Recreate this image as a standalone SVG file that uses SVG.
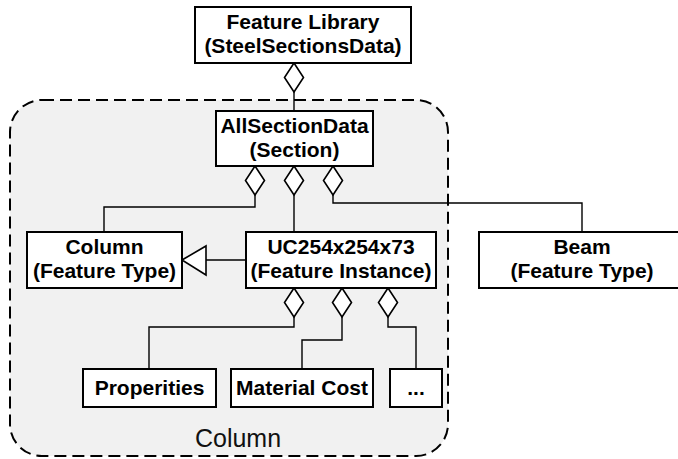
<svg xmlns="http://www.w3.org/2000/svg" width="678" height="459" viewBox="0 0 678 459">
<defs>
<style>
.box{fill:#fff;stroke:#000;stroke-width:2}
.t{font-family:"Liberation Sans",Arial,sans-serif;font-weight:bold;font-size:21px;text-anchor:middle;fill:#000}
.c{fill:none;stroke:#000;stroke-width:1.4}
.dia{fill:#fff;stroke:#000;stroke-width:1.6}
</style>
<path id="dm" d="M0 0 L9.5 14.5 L0 29 L-9.5 14.5 Z"/>
</defs>
<rect width="678" height="459" fill="#fff"/>
<g id="group-column">
<rect x="10" y="100" width="438" height="356" rx="32" ry="32" fill="#f1f1f1" stroke="#000" stroke-width="2" stroke-dasharray="12 6"/>
<text x="238" y="447" font-family="'Liberation Sans',Arial,sans-serif" font-size="25" text-anchor="middle" fill="#111">Column</text>
</g>
<g id="connectors">
<path class="c" d="M294 92 V111"/>
<path class="c" d="M255 195 V207 H104 V232"/>
<path class="c" d="M294 195 V232"/>
<path class="c" d="M333 195 V203 H582 V232"/>
<path class="c" d="M206 260 H246"/>
<path class="c" d="M294 317 V327 H149 V369"/>
<path class="c" d="M342 317 V340 H302 V369"/>
<path class="c" d="M388 317 V327 H416 V369"/>
<use href="#dm" class="dia" x="294" y="63"/>
<use href="#dm" class="dia" x="255" y="166"/>
<use href="#dm" class="dia" x="294" y="166"/>
<use href="#dm" class="dia" x="333" y="166"/>
<use href="#dm" class="dia" x="294" y="288"/>
<use href="#dm" class="dia" x="342" y="288"/>
<use href="#dm" class="dia" x="388" y="288"/>
<path d="M182 260 L206 246 L206 275 Z" fill="#fff" stroke="#000" stroke-width="1.6"/>
</g>
<g id="feature-library">
<rect class="box" x="195" y="7" width="216" height="56"/>
<text class="t" x="303" y="29">Feature Library</text>
<text class="t" x="303" y="53">(SteelSectionsData)</text>
</g>
<g id="allsectiondata">
<rect class="box" x="216" y="111" width="157" height="55"/>
<text class="t" x="294.5" y="133">AllSectionData</text>
<text class="t" x="294.5" y="157">(Section)</text>
</g>
<g id="column">
<rect class="box" x="27" y="232" width="155" height="56"/>
<text class="t" x="104.5" y="254">Column</text>
<text class="t" x="104.5" y="278">(Feature Type)</text>
</g>
<g id="uc254">
<rect class="box" x="246" y="232" width="190" height="56"/>
<text class="t" x="341" y="254">UC254x254x73</text>
<text class="t" x="341" y="278">(Feature Instance)</text>
</g>
<g id="beam">
<rect class="box" x="479" y="232" width="207" height="56"/>
<text class="t" x="582" y="254">Beam</text>
<text class="t" x="582" y="278">(Feature Type)</text>
</g>
<g id="properities">
<rect class="box" x="83" y="369" width="133" height="38"/>
<text class="t" x="149.5" y="395">Properities</text>
</g>
<g id="material-cost">
<rect class="box" x="231" y="369" width="142" height="38"/>
<text class="t" x="302" y="395">Material Cost</text>
</g>
<g id="more">
<rect class="box" x="390" y="369" width="52" height="38"/>
<text class="t" x="416" y="395">...</text>
</g>
</svg>
